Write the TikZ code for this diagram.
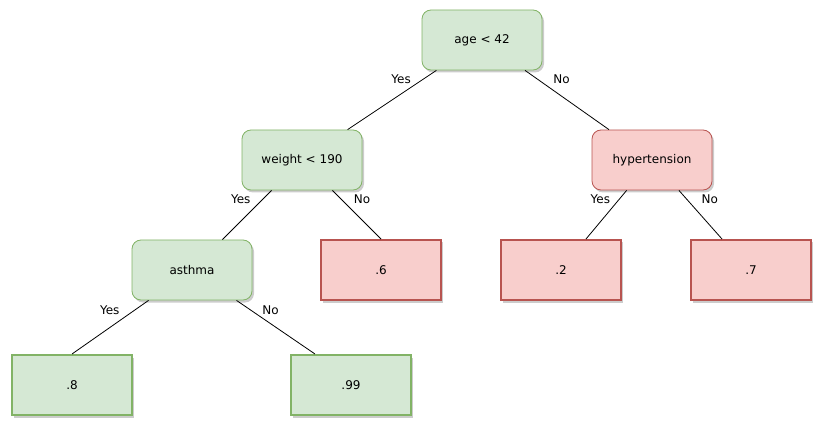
\documentclass[tikz,border=0pt]{standalone}
\usepackage{fontspec}
\setmainfont{DejaVu Sans}
\usepackage{tikz}
\usetikzlibrary{positioning, shadows}
\definecolor{gFill}{HTML}{D5E8D4}
\definecolor{gLine}{HTML}{82B366}
\definecolor{rFill}{HTML}{F8CECC}
\definecolor{rLine}{HTML}{B85450}

\begin{document}
\begin{tikzpicture}[x=1pt, y=-1pt, node distance=0pt, on grid,
split/.style={rectangle, rounded corners=9pt, minimum width=120pt, minimum height=60pt, align=center, line width=0.8pt, font=\fontsize{12}{14}\selectfont, drop shadow={shadow xshift=2pt, shadow yshift=-2.5pt, opacity=0.2, fill=black}},
leaf/.style={rectangle, minimum width=120pt, minimum height=60pt, align=center, line width=2pt, font=\fontsize{12}{14}\selectfont, drop shadow={shadow xshift=2pt, shadow yshift=-2.5pt, opacity=0.2, fill=black}},
G/.style={fill=gFill, draw=gLine},
R/.style={fill=rFill, draw=rLine},
branch/.style={draw, line width=0.8pt},
ans/.style={inner sep=1pt, font=\fontsize{12}{14}\selectfont}]

\useasboundingbox (0,0) rectangle (824,430);

\node[split, G] (age) at (482,40) {age < 42};
\node[split, G, below left=120pt and 180pt of age] (weight) {weight < 190};
\node[split, R, below right=120pt and 170pt of age] (hyper) {hypertension};

\node[split, G, below left=110pt and 110pt of weight] (asthma) {asthma};
\node[leaf, R, below right=110pt and 79pt of weight] (p6) {.6};
\node[leaf, R, below left=110pt and 91pt of hyper] (p2) {.2};
\node[leaf, R, below right=110pt and 99pt of hyper] (p7) {.7};

\node[leaf, G, below left=115pt and 120pt of asthma] (p8) {.8};
\node[leaf, G, below right=115pt and 159pt of asthma] (p99) {.99};

\path[branch] (age) -- node[ans, pos=0.15, xshift=-22pt]{Yes} (weight);
\path[branch] (age) -- node[ans, pos=0.15, xshift=24pt]{No} (hyper);

\path[branch] (weight) -- node[ans, pos=0.18, xshift=-22pt]{Yes} (asthma);
\path[branch] (weight) -- node[ans, pos=0.18, xshift=21pt]{No} (p6.north);

\path[branch] (hyper) -- node[ans, pos=0.18, xshift=-19pt]{Yes} ([xshift=25pt]p2.north);
\path[branch] (hyper) -- node[ans, pos=0.18, xshift=23pt]{No} ([xshift=-29pt]p7.north);

\path[branch] (asthma) -- node[ans, pos=0.18, xshift=-25pt]{Yes} (p8.north);
\path[branch] (asthma) -- node[ans, pos=0.18, xshift=20pt]{No} ([xshift=-36pt]p99.north);
\end{tikzpicture}
\end{document}
